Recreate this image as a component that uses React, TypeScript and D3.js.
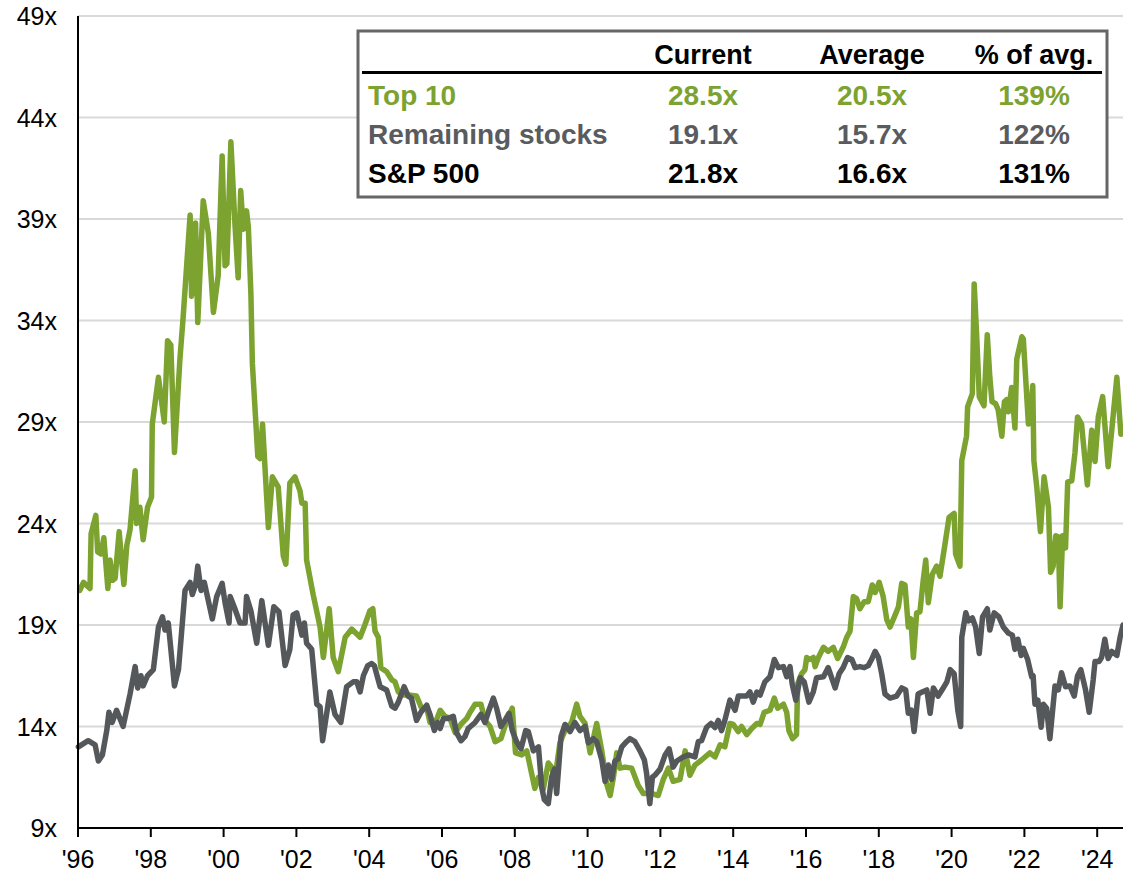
import React from "react";
import * as d3 from "d3";

// Decimal years (1996.0 = Jan 1996) and forward P/E values
const top10Dates = [0.05,0.15,0.33,0.36,0.49,0.54,0.63,0.71,0.82,0.88,0.95,1.02,1.13,1.26,1.34,1.43,1.57,1.61,1.70,1.79,1.91,2.02,2.04,2.21,2.37,2.46,2.55,2.65,2.80,2.89,3.08,3.12,3.23,3.29,3.44,3.58,3.72,3.85,3.96,4.04,4.09,4.20,4.31,4.40,4.47,4.54,4.63,4.68,4.75,4.79,4.94,5.00,5.07,5.23,5.34,5.50,5.64,5.71,5.82,5.96,6.10,6.15,6.24,6.28,6.46,6.65,6.74,6.90,7.01,7.15,7.34,7.52,7.75,7.88,8.02,8.10,8.16,8.25,8.32,8.48,8.62,8.71,8.80,8.94,9.07,9.30,9.44,9.58,9.67,9.81,9.95,10.08,10.22,10.36,10.54,10.68,10.77,10.91,11.07,11.18,11.32,11.46,11.62,11.78,11.93,12.02,12.19,12.33,12.46,12.55,12.65,12.78,12.92,13.01,13.10,13.24,13.38,13.56,13.70,13.79,13.93,14.07,14.25,14.39,14.52,14.62,14.71,14.80,14.89,15.03,15.21,15.39,15.53,15.76,15.94,16.08,16.22,16.35,16.54,16.68,16.81,16.95,17.13,17.36,17.50,17.64,17.77,17.91,18.00,18.14,18.23,18.37,18.51,18.65,18.74,18.85,19.01,19.13,19.22,19.38,19.47,19.53,19.63,19.74,19.77,19.88,19.97,20.02,20.11,20.20,20.25,20.34,20.48,20.61,20.75,20.87,21.02,21.12,21.21,21.30,21.39,21.48,21.60,21.71,21.82,21.90,22.01,22.12,22.22,22.31,22.45,22.54,22.63,22.72,22.81,22.88,22.95,23.04,23.13,23.22,23.29,23.36,23.47,23.59,23.68,23.82,23.93,24.07,24.11,24.23,24.28,24.41,24.44,24.57,24.62,24.69,24.76,24.89,24.98,25.05,25.11,25.21,25.28,25.38,25.45,25.51,25.56,25.65,25.74,25.79,25.93,25.97,26.11,26.15,26.23,26.26,26.34,26.44,26.54,26.66,26.72,26.79,26.86,26.93,26.98,27.05,27.13,27.19,27.30,27.39,27.46,27.57,27.73,27.85,27.94,28.03,28.15,28.30,28.40,28.54,28.65];
const top10Values = [20.7,21.1,20.8,23.5,24.4,22.6,22.5,23.3,20.8,22.2,21.2,21.3,23.6,21.0,22.9,23.7,26.6,24.0,24.8,23.2,24.8,25.3,28.9,31.2,29.0,33.0,32.8,27.5,32.1,34.2,39.2,35.2,38.8,33.9,39.9,38.3,34.4,36.2,42.1,36.7,36.8,42.8,38.8,36.1,40.4,38.5,39.4,38.6,35.3,31.9,27.3,27.2,28.9,23.8,26.3,25.8,22.4,22.0,26.0,26.3,25.6,25.0,25.0,22.2,20.5,18.9,17.4,19.8,17.4,16.7,18.4,18.8,18.4,19.0,19.7,19.8,18.7,18.4,16.9,16.7,16.3,16.2,15.7,15.55,15.55,15.5,14.9,14.9,14.2,14.15,14.8,14.5,14.4,13.7,14.15,14.4,14.7,15.1,15.1,14.3,14.0,13.25,13.4,14.3,14.9,12.7,12.6,12.8,11.7,10.95,11.5,10.9,12.2,12.0,11.4,13.2,13.8,14.2,15.1,14.5,14.15,12.7,14.15,12.8,11.2,10.6,11.5,12.7,11.95,12.0,11.95,11.1,10.7,10.7,10.6,11.4,11.95,11.3,11.4,12.8,11.6,12.1,12.35,12.7,12.5,13.1,13.0,14.15,14.1,13.75,14.0,13.6,13.9,14.15,14.1,14.7,14.8,15.4,14.9,15.1,14.7,13.8,13.4,13.6,16.1,16.6,16.8,17.4,17.3,17.4,16.95,17.4,17.9,17.7,17.9,17.35,17.9,18.4,18.7,20.4,20.3,19.8,20.15,20.15,20.97,20.6,21.1,20.4,19.25,18.9,19.5,19.9,21.05,20.97,18.9,19.3,17.4,19.6,19.65,21.2,22.2,20.1,21.5,21.9,21.4,23.0,24.3,24.5,22.5,21.9,27.1,28.3,29.75,30.4,35.8,33.2,30.25,29.8,33.3,31.2,30.0,29.9,29.6,28.3,30.0,30.1,29.5,30.7,28.7,32.1,33.2,33.1,28.9,29.0,30.8,27.1,25.8,23.6,26.3,24.8,21.6,21.9,23.4,23.35,19.9,23.4,22.8,26.05,26.1,27.5,29.25,28.9,25.9,28.6,27.05,29.25,30.25,26.8,28.6,31.2,28.4];

const remainingDates = [0.01,0.28,0.47,0.56,0.67,0.79,0.85,0.94,1.06,1.24,1.43,1.57,1.64,1.73,1.79,1.91,2.07,2.21,2.32,2.39,2.48,2.65,2.76,2.83,2.94,3.08,3.14,3.23,3.29,3.38,3.47,3.58,3.69,3.81,3.96,4.04,4.15,4.18,4.29,4.45,4.59,4.63,4.75,4.91,5.05,5.23,5.38,5.52,5.69,5.82,5.91,6.01,6.15,6.22,6.28,6.42,6.56,6.65,6.72,6.92,7.06,7.22,7.38,7.56,7.66,7.75,7.84,7.96,8.07,8.14,8.30,8.48,8.62,8.71,8.80,8.96,9.07,9.16,9.30,9.42,9.58,9.67,9.79,9.88,9.95,10.04,10.17,10.31,10.40,10.52,10.63,10.72,10.91,11.07,11.18,11.27,11.41,11.50,11.62,11.73,11.84,11.93,12.05,12.17,12.30,12.37,12.51,12.65,12.74,12.81,12.92,13.01,13.09,13.15,13.27,13.38,13.52,13.65,13.79,13.93,14.02,14.16,14.25,14.39,14.48,14.57,14.66,14.75,14.84,14.94,15.07,15.16,15.30,15.44,15.56,15.62,15.71,15.78,15.85,15.99,16.13,16.24,16.35,16.45,16.63,16.77,16.95,17.04,17.13,17.27,17.39,17.50,17.59,17.68,17.77,17.91,18.05,18.14,18.37,18.46,18.55,18.65,18.74,18.87,19.01,19.13,19.24,19.38,19.47,19.56,19.62,19.72,19.84,19.95,20.08,20.20,20.29,20.48,20.61,20.80,20.91,21.02,21.14,21.26,21.35,21.48,21.60,21.71,21.80,21.90,21.99,22.08,22.17,22.31,22.49,22.63,22.74,22.81,22.90,22.97,23.08,23.19,23.32,23.41,23.50,23.63,23.77,23.87,23.96,24.07,24.17,24.25,24.28,24.39,24.46,24.57,24.66,24.76,24.85,24.98,25.05,25.17,25.30,25.42,25.56,25.67,25.74,25.82,25.91,25.97,26.09,26.20,26.24,26.29,26.37,26.46,26.52,26.61,26.70,26.84,26.93,27.02,27.13,27.25,27.37,27.46,27.55,27.68,27.78,27.89,27.94,28.05,28.12,28.21,28.30,28.40,28.54,28.63,28.71];
const remainingValues = [13.0,13.3,13.1,12.3,12.6,13.8,14.7,14.2,14.8,14.0,15.6,16.95,15.9,16.5,16.0,16.5,16.8,18.9,19.4,18.75,19.1,16.0,16.8,18.3,20.7,21.1,20.5,20.97,21.9,20.7,21.1,20.2,19.3,20.4,21.05,20.1,19.1,20.4,19.9,19.1,19.1,20.4,19.7,18.1,20.2,18.0,19.9,19.65,17.0,17.8,19.5,19.6,18.5,19.1,18.1,17.8,15.1,14.98,13.3,15.7,14.6,14.2,15.96,16.2,16.2,15.7,16.5,17.0,17.1,17.0,15.96,15.8,15.0,14.9,15.2,15.96,15.5,15.4,14.3,14.7,15.05,14.6,13.8,14.2,13.9,14.4,14.4,14.5,13.7,13.3,13.5,13.9,14.2,14.6,14.2,14.7,15.4,14.9,14.0,14.3,14.65,13.8,13.25,12.9,13.8,13.75,12.8,13.0,11.0,10.4,10.2,11.5,11.9,10.7,13.5,14.1,13.75,14.2,13.8,14.0,13.2,13.4,13.25,12.35,11.3,12.1,11.4,12.3,12.4,13.0,13.25,13.4,13.25,12.8,12.35,11.7,10.2,11.5,11.6,11.9,12.6,12.9,12.0,12.3,12.5,12.6,12.5,13.25,13.3,13.96,14.15,13.95,14.3,13.8,14.3,15.3,14.8,15.5,15.5,15.7,15.2,15.7,15.55,16.2,16.45,17.3,16.9,16.95,16.45,16.95,16.1,15.3,16.4,16.2,15.2,15.7,16.4,16.45,16.9,15.9,16.6,16.9,17.4,17.3,16.9,16.95,16.9,17.0,17.3,17.7,17.4,16.6,15.6,15.4,15.5,15.9,15.8,14.65,14.8,13.75,15.6,15.7,15.8,14.65,15.9,15.5,15.9,16.2,16.8,16.6,14.8,14.0,18.4,19.6,19.2,19.35,18.9,17.6,19.4,19.8,18.75,19.6,19.4,18.9,18.6,18.5,17.8,18.3,17.5,17.85,17.3,16.45,16.5,15.1,15.3,13.96,15.1,14.9,13.4,16.0,15.8,16.65,15.96,16.0,15.5,16.5,16.8,15.8,14.7,16.3,17.2,17.2,17.4,18.3,17.35,17.7,17.5,18.4,19.0];

const yTicks = [9, 14, 19, 24, 29, 34, 39, 44, 49];
const xTickYears = [1996, 1998, 2000, 2002, 2004, 2006, 2008, 2010, 2012, 2014, 2016, 2018, 2020, 2022, 2024];

const tableHeaders = ["Current", "Average", "% of avg."];
const tableRowLabels = ["Top 10", "Remaining stocks", "S&P 500"];
const tableCurrent = ["28.5x", "19.1x", "21.8x"];
const tableAverage = ["20.5x", "15.7x", "16.6x"];
const tablePct = ["139%", "122%", "131%"];

const GREEN = "#7ca22f";
const GRAY = "#55585b";
const W = 1123;
const H = 874;
const margin = { left: 78, right: 0, top: 16, bottom: 46 };
const FONT = "'Liberation Sans', Arial, sans-serif";

export default function App() {
  const x = d3.scaleLinear().domain([1996, 1996 + (W - margin.left) / 36.4]).range([margin.left, W - margin.right]);
  const y = d3.scaleLinear().domain([9, 49]).range([H - margin.bottom, margin.top]);

  const line = d3.line<[number, number]>().x((d) => x(1996 + d[0])).y((d) => y(d[1])).curve(d3.curveLinear);
  const top10 = top10Dates.map((t, i) => [t, top10Values[i]] as [number, number]);
  const rem = remainingDates.map((t, i) => [t, remainingValues[i]] as [number, number]);

  const rowColors = [GREEN, "#595b5e", "#000"];
  const colCenters = [703, 872, 1034];
  const rowBaselines = [105, 144, 183];

  return (
    <svg width={W} height={H} style={{ position: "absolute", left: 0, top: 0, background: "#fff" }} fontFamily={FONT}>
      <rect x={0} y={0} width={W} height={H} fill="#fff" />
      {yTicks.filter((v) => v > 9).map((v) => (
        <line key={v} x1={margin.left} x2={W} y1={y(v)} y2={y(v)} stroke="#d9d9d9" strokeWidth={2} />
      ))}
      {yTicks.map((v) => (
        <text key={v} x={57} y={y(v)} dy="0.36em" textAnchor="end" fontSize={25} fill="#000">{`${v}x`}</text>
      ))}
      {xTickYears.map((yr) => (
        <g key={yr}>
          <line x1={x(yr)} x2={x(yr)} y1={y(9)} y2={y(9) + 9} stroke="#000" strokeWidth={2} />
          <text x={x(yr)} y={868} textAnchor="middle" fontSize={25} fill="#000">{`'${String(yr).slice(2)}`}</text>
        </g>
      ))}
      <path d={line(top10) || ""} fill="none" stroke={GREEN} strokeWidth={5.5} strokeLinejoin="round" strokeLinecap="round" />
      <path d={line(rem) || ""} fill="none" stroke={GRAY} strokeWidth={5.5} strokeLinejoin="round" strokeLinecap="round" />
      <line x1={margin.left} x2={margin.left} y1={margin.top} y2={y(9)} stroke="#000" strokeWidth={2} />
      <line x1={margin.left} x2={W} y1={y(9)} y2={y(9)} stroke="#000" strokeWidth={2} />

      <g>
        <rect x={358} y={31} width={749} height={166} fill="#fff" stroke="#666" strokeWidth={3} />
        {tableHeaders.map((h, i) => (
          <text key={h} x={colCenters[i]} y={64} textAnchor="middle" fontSize={27} fontWeight="bold" fill="#000">{h}</text>
        ))}
        <line x1={362} x2={1102} y1={72.5} y2={72.5} stroke="#000" strokeWidth={3} />
        {tableRowLabels.map((lab, r) => (
          <g key={lab} fill={rowColors[r]} fontSize={28} fontWeight="bold">
            <text x={368} y={rowBaselines[r]}>{lab}</text>
            <text x={colCenters[0]} y={rowBaselines[r]} textAnchor="middle">{tableCurrent[r]}</text>
            <text x={colCenters[1]} y={rowBaselines[r]} textAnchor="middle">{tableAverage[r]}</text>
            <text x={colCenters[2]} y={rowBaselines[r]} textAnchor="middle">{tablePct[r]}</text>
          </g>
        ))}
      </g>
    </svg>
  );
}
